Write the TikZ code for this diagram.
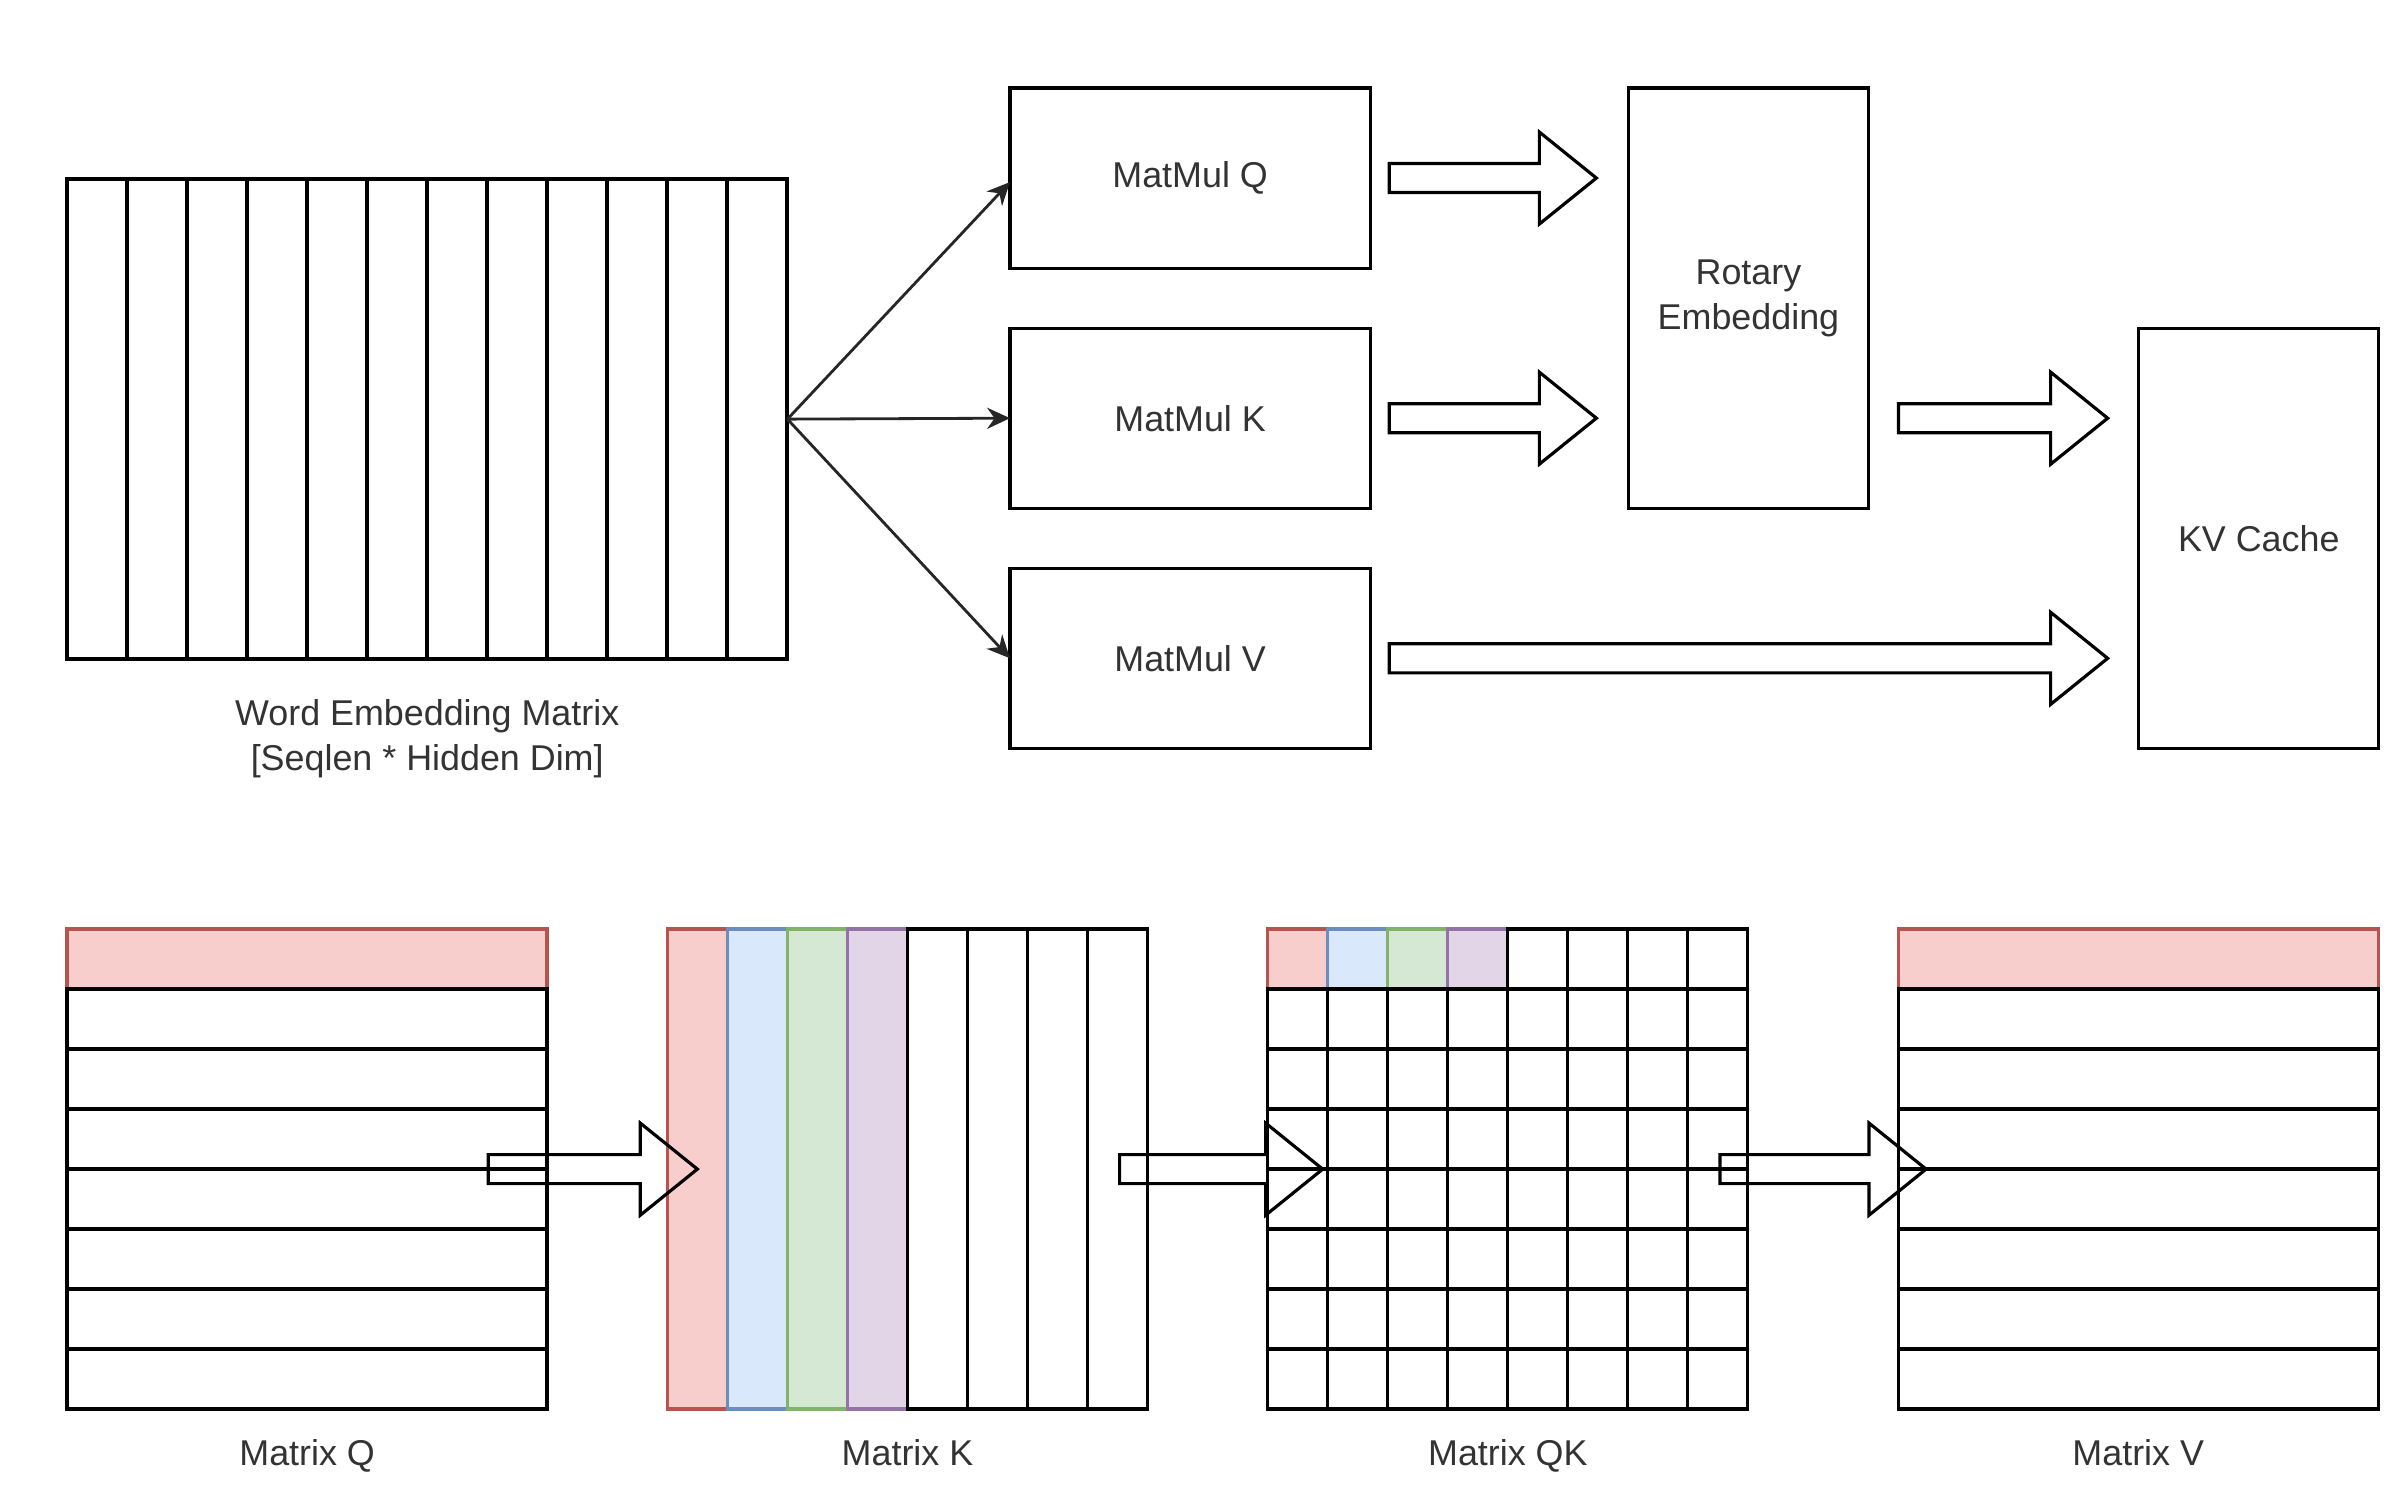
\documentclass[tikz,border=0pt]{standalone}
\usepackage{fontspec}
\setmainfont{Liberation Sans}
\usetikzlibrary{arrows.meta, positioning, calc}
\definecolor{redfill}{HTML}{F8CECC}
\definecolor{redline}{HTML}{B85450}
\definecolor{bluefill}{HTML}{DAE8FC}
\definecolor{blueline}{HTML}{6C8EBF}
\definecolor{greenfill}{HTML}{D5E8D4}
\definecolor{greenline}{HTML}{82B366}
\definecolor{purplefill}{HTML}{E1D5E7}
\definecolor{purpleline}{HTML}{9673A6}
\tikzset{
x=0.01cm, y=-0.01cm, % one unit is one pixel of the grab, y runs down
every node/.style={font=\fontsize{10.2}{12.7}\selectfont, text=black!80},
box/.style={draw, line width=0.9pt, inner sep=0pt, outer sep=0pt, align=center},
matrixbox/.style={inner sep=0pt, outer sep=0pt, minimum width=4.8cm, minimum height=4.8cm},
cell/.style={draw, line width=0.9pt, fill=white},
plain/.style={}, % white cell
redc/.style={fill=redfill, draw=redline},
bluec/.style={fill=bluefill, draw=blueline},
greenc/.style={fill=greenfill, draw=greenline},
purplec/.style={fill=purplefill, draw=purpleline},
thinarrow/.style={-{Stealth[length=6.5pt, width=6pt]}, line width=0.8pt, black!85},
fatline/.style={draw, line width=0.9pt, line join=miter},
caption/.style={inner sep=0pt, align=center},
}
% hollow block arrow from #1 to the tip #2, kept level with #1
\newcommand{\fatarrow}[2]{%
  \draw[fatline] let \p1=(#1), \p2=(#2) in
    (\x1,\y1+0.145cm) -- (\x2-0.57cm,\y1+0.145cm) -- (\x2-0.57cm,\y1+0.46cm)
    -- (\x2,\y1) -- (\x2-0.57cm,\y1-0.46cm) -- (\x2-0.57cm,\y1-0.145cm)
    -- (\x1,\y1-0.145cm) -- cycle;}

\begin{document}
\begin{tikzpicture}
    \useasboundingbox (0,0) rectangle (2400,1507);

    % top row
    \node[matrixbox, minimum width=7.2cm, anchor=north west] (emb) at (67,179) {};
    \begin{scope}[shift={(emb.north west)}]
        \foreach \i in {0,...,11}
            \draw[cell] (\i*60,0) rectangle ++(60,480);
    \end{scope}
    \node[caption, below=0.4cm of emb] (embl) {Word Embedding Matrix\\{[}Seqlen * Hidden Dim{]}};

    \node[box, minimum width=3.6cm, minimum height=1.8cm, anchor=north west] (mmq) at (1010,88) {MatMul Q};
    \node[box, minimum width=3.6cm, minimum height=1.8cm, below=0.6cm of mmq] (mmk) {MatMul K};
    \node[box, minimum width=3.6cm, minimum height=1.8cm, below=0.6cm of mmk] (mmv) {MatMul V};
    \node[box, minimum width=2.4cm, minimum height=4.2cm, anchor=north west] (rot) at ([xshift=2.58cm]mmq.north east) {Rotary\\Embedding};
    \node[box, minimum width=2.4cm, minimum height=4.2cm, anchor=north west] (kv) at ([xshift=2.7cm]rot.east |- mmk.north) {KV Cache};

    \draw[thinarrow] (emb.east) -- ([yshift=-0.04cm]mmq.west);
    \draw[thinarrow] (emb.east) -- (mmk.west);
    \draw[thinarrow] (emb.east) -- (mmv.west);

    \fatarrow{$(mmq.east)+(19,0)$}{$(rot.west|-mmq.east)+(-32,0)$}
    \fatarrow{$(mmk.east)+(19,0)$}{$(rot.west|-mmk.east)+(-32,0)$}
    \fatarrow{$(rot.east|-mmk.east)+(30,0)$}{$(kv.west|-mmk.east)+(-31,0)$}
    \fatarrow{$(mmv.east)+(19,0)$}{$(kv.west|-mmv.east)+(-31,0)$}

    % bottom row
    \node[matrixbox, anchor=north west] (mq) at (67,929) {};
    \node[matrixbox, right=1.2cm of mq] (mk) {};
    \node[matrixbox, right=1.2cm of mk] (mqk) {};
    \node[matrixbox, right=1.5cm of mqk] (mv) {};

    \begin{scope}[shift={(mq.north west)}]
        \foreach \r/\s in {0/redc,1/plain,2/plain,3/plain,4/plain,5/plain,6/plain,7/plain}
            \draw[cell, \s] (0,\r*60) rectangle ++(480,60);
    \end{scope}
    \begin{scope}[shift={(mk.north west)}]
        \foreach \c/\s in {0/redc,1/bluec,2/greenc,3/purplec,4/plain,5/plain,6/plain,7/plain}
            \draw[cell, \s] (\c*60,0) rectangle ++(60,480);
    \end{scope}
    \begin{scope}[shift={(mqk.north west)}]
        \foreach \c/\s in {0/redc,1/bluec,2/greenc,3/purplec,4/plain,5/plain,6/plain,7/plain}
            \draw[cell, \s] (\c*60,0) rectangle ++(60,60);
        \foreach \r in {1,...,7}
            \foreach \c in {0,...,7}
                \draw[cell] (\c*60,\r*60) rectangle ++(60,60);
    \end{scope}
    \begin{scope}[shift={(mv.north west)}]
        \foreach \r/\s in {0/redc,1/plain,2/plain,3/plain,4/plain,5/plain,6/plain,7/plain}
            \draw[cell, \s] (0,\r*60) rectangle ++(480,60);
    \end{scope}

    \node[caption, below=0.3cm of mq] (mql) {Matrix Q};
    \node[caption, below=0.3cm of mk] (mkl) {Matrix K};
    \node[caption, below=0.3cm of mqk] (mqkl) {Matrix QK};
    \node[caption, below=0.3cm of mv] (mvl) {Matrix V};

    \fatarrow{$(mq.east)+(-59,0)$}{$(mk.west)+(30,0)$}
    \fatarrow{$(mk.east)+(-28,0)$}{$(mqk.west)+(55,0)$}
    \fatarrow{$(mqk.east)+(-28,0)$}{$(mv.west)+(28,0)$}
\end{tikzpicture}
\end{document}
